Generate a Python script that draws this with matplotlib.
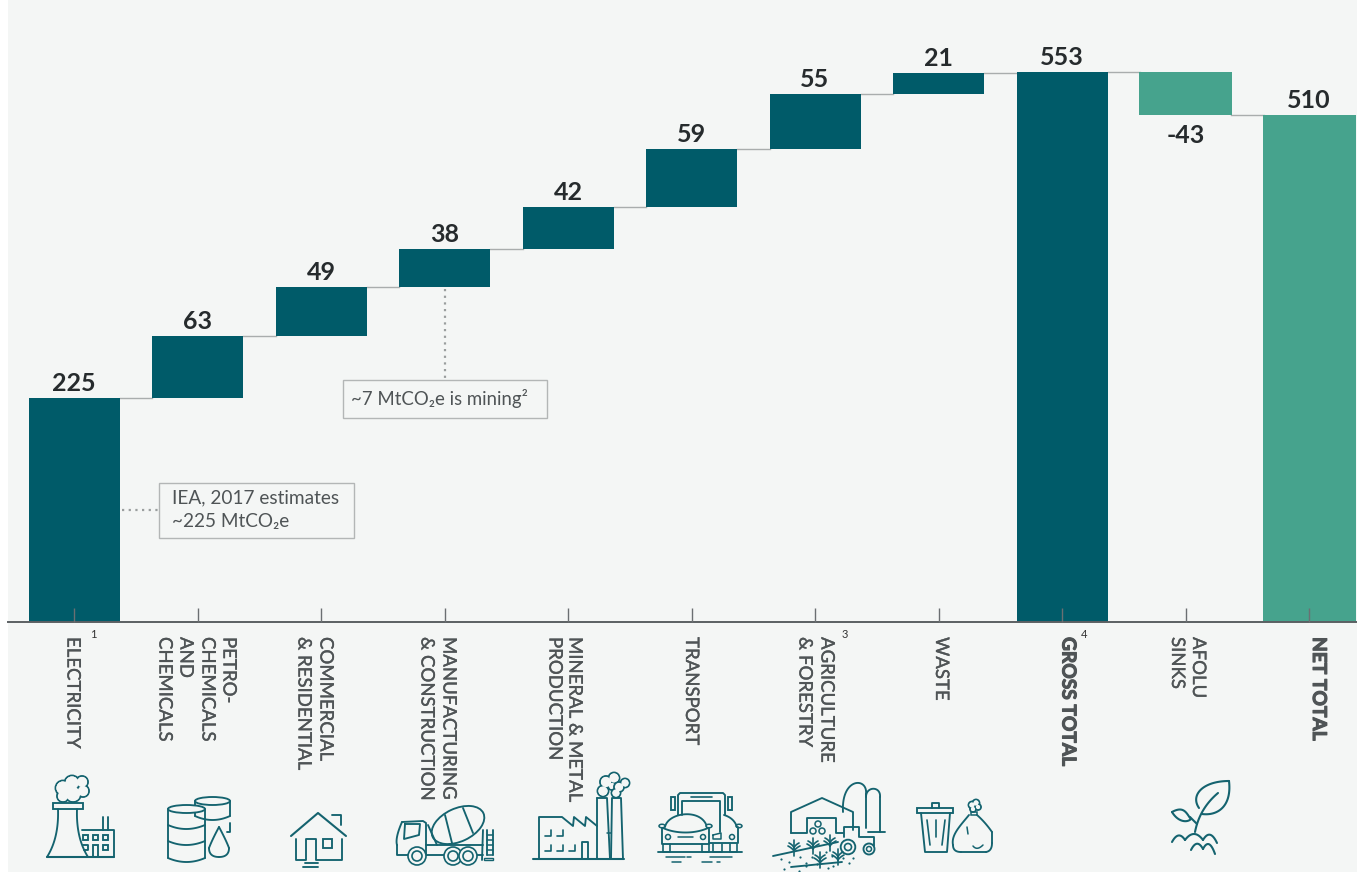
import matplotlib
matplotlib.use("Agg")
import matplotlib.pyplot as plt
import matplotlib.patheffects as pe
from matplotlib.patches import Rectangle, Circle, Ellipse
import numpy as np

W, H = 1357, 872
BG = "#f4f6f5"
DARK = "#005b69"
GREEN = "#46a38d"
ICON = "#14636f"
GREY = "#4f5456"

categories = ["ELECTRICITY", "PETRO-\nCHEMICALS\nAND\nCHEMICALS", "COMMERCIAL\n& RESIDENTIAL",
              "MANUFACTURING\n& CONSTRUCTION", "MINERAL & METAL\nPRODUCTION", "TRANSPORT",
              "AGRICULTURE\n& FORESTRY", "WASTE", "GROSS TOTAL", "AFOLU\nSINKS", "NET TOTAL"]
values = [225, 63, 49, 38, 42, 59, 55, 21, 553, -43, 510]
value_labels = ["225", "63", "49", "38", "42", "59", "55", "21", "553", "-43", "510"]
footnotes = {0: "1", 6: "3", 8: "4"}
bold_cats = [8, 10]

# pixel offset of each label line from its tick
label_offsets = [[-1], [31.5, 10.5, -11.5, -32.5], [5, -17], [4.5, -17.5], [7, -13], [0], [12, -10], [3], [6],
                 [13, -8], [9.5]]
footnote_dx = {0: 19, 6: 30, 8: 22}

plt.rcParams["font.family"] = ["Lato", "DejaVu Sans"]

fig = plt.figure(figsize=(W / 100, H / 100), dpi=100, facecolor="white")

# page background
bg = fig.add_axes([8 / W, 0, 1 - 8 / W, 1])
bg.axis("off")
bg.add_patch(Rectangle((0, 0), 1, 1, transform=bg.transAxes, color=BG))

# main axes: x is category index, y in MtCO2e
ax = fig.add_axes([8 / W, (H - 622) / H, 1 - 8 / W, 622 / H])
ax.patch.set_alpha(0)
step = 123.5
ax.set_xlim((8 - 74) / step, (1357 - 74) / step)
ax.set_ylim(0, 622 / 0.9946)
for s in ["top", "left", "right"]:
    ax.spines[s].set_visible(False)
ax.spines["bottom"].set_color("#5b6063")
ax.spines["bottom"].set_linewidth(1.4)
ax.set_yticks([])
ax.set_xticks(range(len(categories)))
ax.set_xticklabels([])
ax.set_axisbelow(False)
ax.tick_params(axis="x", direction="in", length=10, width=1, color="#6b6f72")

bar_w = 91 / step
running = 0
for i, v in enumerate(values):
    if i in (8, 10):
        bottom, top = 0, v
        colour = DARK if i == 8 else GREEN
        running = v
    elif v < 0:
        bottom, top = running + v, running
        colour = GREEN
        running = running + v
    else:
        bottom, top = running, running + v
        colour = DARK
        running = running + v
    width = 93 / step if i >= 9 else bar_w
    ax.bar(i, top - bottom, bottom=bottom, width=width, color=colour, zorder=2)
    # connector to next bar
    if i < len(values) - 1:
        ax.plot([i + bar_w / 2, i + 1 - bar_w / 2], [running, running], color="#a9adad", lw=1, zorder=1)
    label_y = bottom - 32 if v < 0 else top + 3
    ax.text(i, label_y, value_labels[i], ha="center", va="bottom", fontsize=18, fontweight="bold",
            color="#262b2d", zorder=6)

# overlay in pixel coordinates for labels, notes and icons
ov = fig.add_axes([0, 0, 1, 1])
ov.set_xlim(0, W)
ov.set_ylim(H, 0)
ov.axis("off")
ov.patch.set_alpha(0)

for i, cat in enumerate(categories):
    cx = 74 + i * step
    is_bold = i in bold_cats
    for j, part in enumerate(cat.split("\n")):
        # rotated 270: baseline sits on the left of the caps
        t = ov.text(cx + label_offsets[i][j] - 5.5, 637, part, rotation=270, rotation_mode="anchor", ha="left",
                    va="baseline", fontsize=13.8 if is_bold else 13.4,
                    fontweight="bold" if is_bold else "normal", color=GREY)
        # rotated Lato comes out lighter than the original face, so thicken it
        t.set_path_effects([pe.withStroke(linewidth=0.8 if is_bold else 0.25, foreground=GREY)])
    if i in footnotes:
        ov.text(cx + footnote_dx[i], 634, footnotes[i], ha="center", va="center", fontsize=8, color="#333333")

# annotation boxes
ov.plot([122, 160], [510, 510], color="#9a9e9e", lw=1.6, ls=(0, (1, 2)))
ov.plot([444.5, 444.5], [289, 380], color="#9a9e9e", lw=1.6, ls=(0, (1, 2)))
ov.add_patch(Rectangle((159, 483), 195, 55, fc=BG, ec="#b3b6b6", lw=1, zorder=3))
ov.text(172, 498, "IEA, 2017 estimates", fontsize=13.7, color=GREY, va="center", zorder=4)
ov.text(172, 521, "~225 MtCO\u2082e", fontsize=13.7, color=GREY, va="center", zorder=4)
ov.add_patch(Rectangle((343, 380), 204, 38, fc=BG, ec="#b3b6b6", lw=1, zorder=3))
ov.text(351, 398, "~7 MtCO\u2082e is mining\u00b2", fontsize=13.4, color=GREY, va="center", zorder=4)

LW = 1.35


def line(xs, ys, lw=LW, z=2):
    ov.plot(xs, ys, color=ICON, lw=lw, solid_capstyle="round", solid_joinstyle="round", zorder=z)


def rect(x0, y0, w, h, lw=LW, z=2):
    ov.add_patch(Rectangle((x0, y0), w, h, fc="none", ec=ICON, lw=lw, zorder=z))


def circ(cx, cy, r, lw=LW, z=2, fill="none"):
    ov.add_patch(Circle((cx, cy), r, fc=fill, ec=ICON, lw=lw, zorder=z))


def curve(p0, p1, p2, lw=LW, z=2):
    t = np.linspace(0, 1, 30)
    xs = (1 - t) ** 2 * p0[0] + 2 * t * (1 - t) * p1[0] + t ** 2 * p2[0]
    ys = (1 - t) ** 2 * p0[1] + 2 * t * (1 - t) * p1[1] + t ** 2 * p2[1]
    line(xs, ys, lw, z)


def curve4(p0, p1, p2, p3, lw=LW, z=2):
    t = np.linspace(0, 1, 40)
    xs = (1 - t) ** 3 * p0[0] + 3 * t * (1 - t) ** 2 * p1[0] + 3 * t ** 2 * (1 - t) * p2[0] + t ** 3 * p3[0]
    ys = (1 - t) ** 3 * p0[1] + 3 * t * (1 - t) ** 2 * p1[1] + 3 * t ** 2 * (1 - t) * p2[1] + t ** 3 * p3[1]
    line(xs, ys, lw, z)


def puffs(pts, z=2):
    # outlined circles whose fills hide the inner arcs, so only the cloud outline stays
    for px, py, r in pts:
        circ(px, py, r, z=z)
    for px, py, r in pts:
        ov.add_patch(Circle((px, py), r - 0.9, fc=BG, ec="none", zorder=z + 0.5))


# electricity
puffs([(63, 788, 7.5), (72, 783, 7.5), (82, 782, 6), (83, 791, 6), (73, 794, 8), (63, 796, 6)])
rect(53, 803, 30, 6, z=3)
curve((58, 809), (59, 838), (47, 857))
curve((77, 809), (76, 838), (88, 857))
line([47, 114], [857, 857], 1.5)
line([82, 114, 114], [830, 830, 857])
for cx in (83, 93, 103):
    rect(cx, 835, 5, 5)
rect(103, 845, 5, 5)
rect(93, 845, 5, 12)
line([83, 88, 88, 84], [845, 845, 850, 850])
line([103, 103], [817, 830])
line([108, 108], [817, 830])

# barrels
for x0, x1, top, bot in [(168, 205, 809, 858), (195, 230, 801, 816)]:
    ov.add_patch(Ellipse(((x0 + x1) / 2, top), x1 - x0, 8, fc=BG, ec=ICON, lw=LW, zorder=3))
    line([x0, x0], [top, bot], z=1.5)
    line([x1, x1], [top, bot], z=1.5)
    curve((x0, bot), ((x0 + x1) / 2, bot + 8), (x1, bot), z=1.5)
curve((168, 825), (186, 833), (205, 825))
curve((168, 841), (186, 849), (205, 841))
line([230, 230, 227], [823, 832, 832])
curve((209, 848), (209, 857), (219, 857))
curve((219, 857), (229, 857), (229, 848))
curve((209, 848), (212, 840), (219, 827))
curve((229, 848), (226, 840), (219, 827))

# house
line([291, 318, 346], [836, 813, 836], 1.5)
line([296, 296, 306, 306, 316, 316, 342, 342], [839, 860, 860, 839, 839, 860, 860, 839])
rect(323, 839, 9, 9)
line([332, 341, 341], [815, 815, 825])
line([305, 318], [863, 863])
line([303, 318], [867, 867])

# mixer truck
curve((397, 845), (395, 838), (402, 822))
line([402, 423, 426, 426, 397, 397], [822, 821, 823, 855, 855, 845])
line([405, 420, 419, 404, 405], [824, 824, 835, 839, 824])
ov.add_patch(Ellipse((458, 825), 56, 33, angle=-25, fc=BG, ec=ICON, lw=LW, zorder=2))
line([445, 452], [815, 843], z=3)
line([463, 473], [808, 833], z=3)
line([428, 437], [825, 845])
line([426, 483], [845, 845])
line([426, 483], [855, 855])
line([483, 482], [830, 860])
line([487, 487], [830, 855])
line([493, 493], [830, 855])
for cy in (835, 840, 845, 850, 855):
    line([487, 493], [cy, cy], 1.1)
rect(484, 858, 9, 2, 1)
for cx in (417, 453, 468):
    circ(cx, 856, 9, 1.2, z=3, fill=BG)
    circ(cx, 856, 5, 1.2, z=4)

# factory
line([533, 624], [859, 859], 1.5)
line([539, 539, 562, 573, 574, 585, 586, 597], [859, 817, 817, 826, 817, 826, 817, 826])
line([597, 597], [859, 798])
line([597, 607, 610], [798, 798, 859])
line([611, 612, 621, 623], [859, 798, 798, 859])
line([607, 611], [833, 833], 1.1)
line([582, 582, 588, 588], [859, 842, 842, 859])
for cx, cy in [(551, 836), (563, 836), (551, 851), (563, 851), (575, 851)]:
    line([cx - 6, cx, cx], [cy, cy, cy - 6], 1.2)
puffs([(603, 791, 5.5), (606, 782, 6), (614, 778, 5.5), (612, 786, 4)])
puffs([(616, 793, 4.5), (619, 787, 5), (625, 783, 4.5)], z=3)

# transport
line([678, 678, 680, 723, 725, 725], [815, 795, 793, 793, 795, 815])
line([682, 682, 720, 720], [815, 801, 801, 832])
line([691, 712], [797, 797], 1.2)
rect(671, 797, 4, 13)
rect(728, 797, 4, 13)
curve((724, 815), (734, 818), (737, 827))
line([738, 738, 709], [827, 843, 843])
ov.add_patch(Ellipse((739, 826), 6, 3.5, fc=BG, ec=ICON, lw=1.1))
curve4((665, 827), (668, 812), (702, 808), (707, 827), z=3)
line([662, 662, 709, 709], [828, 844, 844, 828], z=3)
curve4((663, 828), (676, 834), (695, 834), (708, 828), z=3)
ov.add_patch(Ellipse((662, 826), 6, 3.5, fc=BG, ec=ICON, lw=1.1, zorder=3))
ov.add_patch(Ellipse((709, 826), 6, 3.5, fc=BG, ec=ICON, lw=1.1, zorder=3))
circ(668, 837, 2.5, 1.1)
circ(703, 837, 2.5, 1.1)
circ(732, 837, 2.5, 1.1)
line([678, 693], [837, 837], 1.1)
line([713, 721, 721, 713, 713], [835, 833, 839, 839, 835], 1.1)
for x0, x1 in [(663, 670), (702, 709), (713, 722), (730, 737)]:
    line([x0, x0, x1, x1], [844, 852, 852, 844], 1.2)
line([658, 742], [852, 852])
for x0, x1, y0 in [(666, 685, 857), (687, 691, 857), (710, 732, 857), (672, 681, 862), (702, 712, 862), (717, 720, 862)]:
    line([x0, x1], [y0, y0], 1.1)

# agriculture
line([791, 791, 822, 853, 853], [833, 812, 798, 812, 830])
line([791, 807, 807, 836, 836, 843], [833, 833, 818, 818, 833, 833])
circ(818, 824, 3, 1.1)
circ(813, 831, 3, 1.1)
circ(822, 831, 3, 1.1)
curve4((843, 812), (841, 777), (868, 777), (866, 794))
line([866, 866], [794, 828])
curve4((866, 797), (866, 786), (881, 786), (880, 797))
line([880, 880], [797, 832])
line([868, 885], [832, 832])
line([844, 844, 859, 859], [837, 827, 827, 837])
line([860, 874, 874], [837, 837, 846])
circ(848, 847, 7.3, z=3, fill=BG)
circ(848, 847, 3.5, 1.2, z=4)
circ(869, 849, 5.5, z=3, fill=BG)
circ(869, 849, 2.5, 1.1, z=4)
line([773, 838], [856, 842])
line([791, 842], [867, 862])
for cx, cy in [(794, 848), (813, 846), (830, 843), (820, 860), (838, 857)]:
    line([cx, cx], [cy - 8, cy + 8], 1.2, z=3)
    curve((cx - 6, cy - 2), (cx - 2, cy), (cx, cy + 3), 1.2, z=3)
    curve((cx + 6, cy - 2), (cx + 2, cy), (cx, cy + 3), 1.2, z=3)
    curve((cx - 5, cy - 5), (cx - 1, cy - 3), (cx, cy), 1.2, z=3)
    curve((cx + 5, cy - 5), (cx + 1, cy - 3), (cx, cy), 1.2, z=3)
dots_x = [781, 789, 800, 806, 812, 817, 826, 832, 843, 848, 853, 784, 799, 806, 828, 833, 849]
dots_y = [859, 862, 857, 863, 857, 864, 852, 856, 858, 853, 858, 869, 871, 866, 868, 866, 863]
ov.scatter(dots_x, dots_y, s=2.5, color=ICON, linewidths=0)

# waste
rect(917, 808, 36, 5)
line([932, 932, 939, 939], [808, 803, 803, 808])
line([921, 925, 947, 950], [813, 852, 852, 813])
line([927, 930], [820, 845], 1.2)
line([936, 936], [820, 837], 1.2)
line([945, 942], [820, 845], 1.2)
puffs([(972, 805, 3.5), (976, 803, 3.5), (978, 807, 3), (973, 809, 3)])
curve4((969, 815), (960, 826), (951, 835), (953, 845))
curve((953, 845), (953, 852), (961, 852))
line([961, 986], [852, 852])
curve((986, 852), (992, 851), (992, 843))
line([992, 992], [843, 832])
curve((992, 832), (985, 822), (977, 815))
rect(971, 812, 6, 3, 1.1)
line([967, 968], [827, 834], 1.1)
curve((973, 846), (977, 851), (983, 845), 1.1)

# plant
curve4((1229, 781), (1203, 781), (1190, 795), (1199, 808), 1.5)
curve4((1229, 781), (1232, 807), (1217, 816), (1202, 814), 1.5)
curve4((1218, 793), (1205, 804), (1198, 817), (1195, 832), 1.5)
curve4((1172, 812), (1183, 806), (1186, 812), (1190, 818), 1.5)
curve4((1172, 812), (1178, 822), (1187, 823), (1191, 819), 1.5)
line([1190, 1197], [817, 824], 1.5)
for x0, x1, y0, y1 in [(1172, 1185, 842, 840), (1185, 1203, 840, 840), (1203, 1217, 840, 843),
                       (1191, 1203, 850, 849), (1203, 1215, 849, 854)]:
    curve((x0, y0), ((x0 + x1) / 2, y0 - 12), (x1, y1), 1.5)

fig.savefig("out.png", dpi=100, facecolor="white")
